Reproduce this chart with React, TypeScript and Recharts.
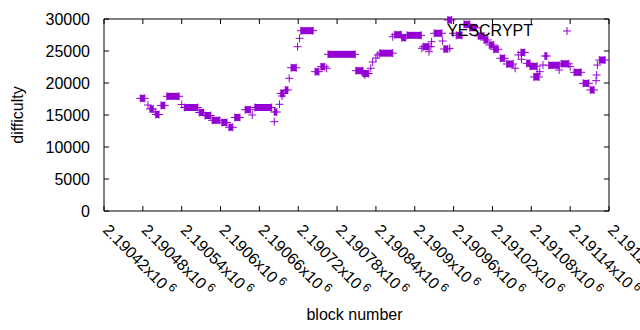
import React from 'react';
import { ScatterChart, Scatter, XAxis, YAxis, ErrorBar } from 'recharts';

const PURPLE = '#9400d3';

const X_MIN = 2190420;
const X_MAX = 2191200;
const Y_MAX = 30000;

const seriesName = 'YESCRYPT';

const blockTicks = [
  2190420, 2190480, 2190540, 2190600, 2190660, 2190720, 2190780,
  2190840, 2190900, 2190960, 2191020, 2191080, 2191140, 2191200,
];
const difficultyTicks = [0, 5000, 10000, 15000, 20000, 25000, 30000];

// blocks that stand on their own
const singleBlocks = [
  2190488, 2190499, 2190540, 2190649, 2190683, 2190691, 2190695, 2190706, 2190719,
  2190722, 2190764, 2190823, 2190832, 2190835, 2190840, 2190843, 2190866, 2190911,
  2190922, 2190925, 2190926, 2190943, 2190954, 2190959, 2191055, 2191060, 2191065,
  2191089, 2191093, 2191098, 2191123, 2191140, 2191180, 2191181, 2191182,
];
const singleDifficulty = [
  16560, 15470, 16640, 15000, 13950, 16670, 17970, 20730, 25670,
  26980, 22300, 21250, 22300, 23280, 23900, 24380, 27230, 25420,
  24890, 25670, 26450, 26560, 25420, 27770, 22300, 24380, 23700,
  21410, 21770, 22810, 22030, 22550, 20360, 21250, 22810,
];

// runs of blocks where difficulty stayed the same
const runStart = [
  2190476, 2190491, 2190500, 2190508, 2190517, 2190544, 2190567, 2190576, 2190587,
  2190602, 2190613, 2190622, 2190638, 2190653, 2190683, 2190693, 2190700, 2190709,
  2190724, 2190746, 2190755, 2190766, 2190809, 2190820, 2190846, 2190869, 2190880,
  2190888, 2190913, 2190930, 2190945, 2190951, 2190964, 2190976, 2190985, 2190998,
  2191007, 2191015, 2191022, 2191032, 2191042, 2191064, 2191073, 2191078, 2191084,
  2191101, 2191107, 2191126, 2191146, 2191160, 2191171, 2191185,
];
const runEnd = [
  2190483, 2190496, 2190505, 2190514, 2190536, 2190565, 2190574, 2190585, 2190599,
  2190610, 2190619, 2190630, 2190646, 2190679, 2190687, 2190698, 2190704, 2190717,
  2190743, 2190752, 2190761, 2190808, 2190820, 2190829, 2190866, 2190879, 2190886,
  2190910, 2190922, 2190942, 2190951, 2190957, 2190973, 2190985, 2190995, 2191007,
  2191013, 2191022, 2191029, 2191039, 2191052, 2191070, 2191078, 2191089, 2191092,
  2191104, 2191123, 2191138, 2191157, 2191169, 2191177, 2191194,
];
const runDifficulty = [
  17600, 15940, 15080, 16500, 17920, 16170, 15390, 14920, 14170,
  13830, 13080, 14610, 15830, 16170, 15470, 18360, 18900, 22390,
  28170, 21770, 22550, 24480, 21920, 21480, 24660, 27550, 27080,
  27450, 25670, 27770, 25310, 29840, 27450, 29170, 28640, 27340,
  26720, 25940, 25270, 23860, 22970, 24770, 23080, 22610, 20940,
  24220, 22770, 23000, 21670, 19950, 18910, 23590,
];

const pointData = [
  ...singleBlocks.map((b, i) => ({ block: b, difficulty: singleDifficulty[i] })),
  ...runStart.map((b, i) => ({ block: b, difficulty: runDifficulty[i] })),
  ...runEnd.map((b, i) => ({ block: b, difficulty: runDifficulty[i] })),
];

const runData = runStart.map((b, i) => ({
  block: b,
  difficulty: runDifficulty[i],
  span: [0, runEnd[i] - b],
}));

// frame: top edge and right edge (left/bottom come from the axis lines)
const topEdge = [{ block: X_MIN, difficulty: Y_MAX, span: [0, X_MAX - X_MIN] }];
const rightEdge = [{ block: X_MAX, difficulty: 0, span: [0, Y_MAX] }];

// tick mark anchors on all four sides
const bottomTicks = blockTicks.map((t) => ({ block: t, difficulty: 0 }));
const topTicks = blockTicks.map((t) => ({ block: t, difficulty: Y_MAX }));
const leftTicks = difficultyTicks.map((v) => ({ block: X_MIN, difficulty: v }));
const rightTicks = difficultyTicks.map((v) => ({ block: X_MAX, difficulty: v }));

const Plus = (props: any) => {
  const { cx, cy } = props;
  if (cx == null || cy == null) return null;
  return (
    <path
      d={`M${cx - 4},${cy}H${cx + 4}M${cx},${cy - 4}V${cy + 4}`}
      stroke={PURPLE}
      strokeWidth={1}
      fill="none"
    />
  );
};

// inward tick marks, gnuplot style (dx, dy = direction into the plot)
const tickMark = (dx: number, dy: number) => (props: any) => {
  const { cx, cy } = props;
  if (cx == null || cy == null) return <g />;
  return <line x1={cx} y1={cy} x2={cx + dx * 5} y2={cy + dy * 5} stroke="#000" strokeWidth={1} />;
};

const Empty = () => <g />;

const BlockTick = (props: any) => {
  const { x, y, payload } = props;
  const label = (payload.value / 1e6).toFixed(5).replace(/0+$/, '');
  return (
    <g transform={`translate(${x - 2},${y + 25}) rotate(45)`}>
      <text x={0} y={0} textAnchor="start" fontSize={16} fill="#000">
        {label}x10
        <tspan dx={3} dy={-6} fontSize={12}>6</tspan>
      </text>
    </g>
  );
};

const xLabel = (props: any) => {
  const { viewBox } = props;
  return (
    <text x={viewBox.x + viewBox.width / 2 - 2} y={viewBox.y + 109} textAnchor="middle" fontSize={16} fill="#000">
      block number
    </text>
  );
};

const yLabel = (props: any) => {
  const { viewBox } = props;
  const cx = viewBox.x + 23;
  const cy = viewBox.y + viewBox.height / 2;
  return (
    <text transform={`translate(${cx},${cy}) rotate(-90)`} textAnchor="middle" fontSize={16} fill="#000">
      difficulty
    </text>
  );
};

export default function App() {
  return (
    <div style={{ position: 'absolute', left: 0, top: 0, width: 640, height: 330, fontFamily: '"Liberation Sans", Arial, sans-serif', background: '#fff' }}>
      <ScatterChart width={640} height={330} margin={{ top: 19, right: 31, bottom: 0, left: 0 }}>
        <XAxis
          type="number"
          dataKey="block"
          domain={[X_MIN, X_MAX]}
          ticks={blockTicks}
          interval={0}
          height={119}
          tickSize={-5}
          tickMargin={0}
          tickLine={false}
          axisLine={{ stroke: '#000' }}
          tick={<BlockTick />}
          label={xLabel}
        />
        <YAxis
          type="number"
          dataKey="difficulty"
          domain={[0, Y_MAX]}
          ticks={difficultyTicks}
          interval={0}
          width={104}
          tickSize={-5}
          tickMargin={19}
          tickLine={false}
          axisLine={{ stroke: '#000' }}
          tick={{ fontSize: 16, fill: '#000' }}
          label={yLabel}
        />
        <Scatter data={topEdge} legendType="none" shape={<Empty />} isAnimationActive={false}>
          <ErrorBar dataKey="span" direction="x" width={0} strokeWidth={1} stroke="#000" isAnimationActive={false} />
        </Scatter>
        <Scatter data={rightEdge} legendType="none" shape={<Empty />} isAnimationActive={false}>
          <ErrorBar dataKey="span" direction="y" width={0} strokeWidth={1} stroke="#000" isAnimationActive={false} />
        </Scatter>
        <Scatter data={bottomTicks} legendType="none" shape={tickMark(0, -1)} isAnimationActive={false} />
        <Scatter data={topTicks} legendType="none" shape={tickMark(0, 1)} isAnimationActive={false} />
        <Scatter data={leftTicks} legendType="none" shape={tickMark(1, 0)} isAnimationActive={false} />
        <Scatter data={rightTicks} legendType="none" shape={tickMark(-1, 0)} isAnimationActive={false} />
        <Scatter data={runData} legendType="none" shape={<Empty />} isAnimationActive={false}>
          <ErrorBar dataKey="span" direction="x" width={0} strokeWidth={7} stroke={PURPLE} isAnimationActive={false} />
        </Scatter>
        <Scatter name={seriesName} data={pointData} shape={<Plus />} fill={PURPLE} isAnimationActive={false} />
      </ScatterChart>
      <div style={{ position: 'absolute', left: 403, top: 22, display: 'flex', alignItems: 'center', height: 18 }}>
        <span style={{ width: 130, textAlign: 'right', fontSize: 16, color: '#000', lineHeight: '18px' }}>
          {seriesName}
        </span>
        <svg width={68} height={18}>
          <path d="M30,9H38M34,5V13" stroke={PURPLE} strokeWidth={1} fill="none" />
        </svg>
      </div>
    </div>
  );
}
